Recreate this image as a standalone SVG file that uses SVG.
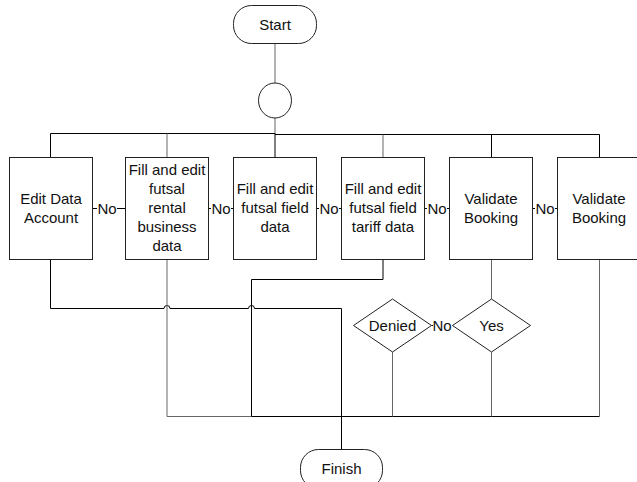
<svg xmlns="http://www.w3.org/2000/svg" width="637" height="482" viewBox="0 0 637 482">
<style>
  .box { fill: #fff; stroke: #222; stroke-width: 1; }
  .term { fill: #fff; stroke: #222; stroke-width: 1; }
  .t { font-family: "Liberation Sans", Arial, sans-serif; font-size: 15px; fill: #111; text-anchor: middle; }
  .c { fill: none; stroke: #000; stroke-width: 1; }
  .g { fill: none; stroke: #666; stroke-width: 1; }
  .bg { fill: #fff; }
</style>
<rect width="637" height="482" fill="#fff"/>
<g id="connectors">
  <path class="g" d="M275 44 V83"/>
  <path class="g" d="M275 118 V133"/>
  <path class="c" d="M50.5 157.5 V133.5 H275"/>
  <path class="g" d="M167 133.5 V157.5"/>
  <path class="c" d="M275 133 V157.5" stroke-width="2"/>
  <path class="c" d="M275 134.5 H599.5 V157.5"/>
  <path class="g" d="M383 134.5 V157.5"/>
  <path class="c" d="M491.5 134.5 V157.5"/>
  <path class="c" d="M92.5 208.5 H125.5 M208.5 208.5 H233.5 M316.5 208.5 H341.5 M424.5 208.5 H449.5 M532.5 208.5 H557.5"/>
  <path class="c" d="M50.5 259.5 V308.5 H164 A3 3 0 0 1 170 308.5 H248.5 A3 3 0 0 1 254.5 308.5 H341.5 V449.5"/>
  <path class="g" d="M167 259.5 V416.5 H251.5"/>
  <path class="c" d="M383 259.5 V279.5 H251.5 V416.5 H599.5"/>
  <path class="g" d="M599.5 259.5 V416.5"/>
  <path class="g" d="M491.5 259.5 V299"/>
  <path class="g" d="M392.5 352 V416.5"/>
  <path class="g" d="M491.5 352 V416.5"/>
  <path class="c" d="M431.5 325.5 H452.5"/>
</g>
<g id="labels">
  <rect class="bg" x="97" y="200" width="20" height="16"/>
  <text class="t" x="107" y="213.5">No</text>
  <rect class="bg" x="211" y="200" width="20" height="16"/>
  <text class="t" x="221" y="213.5">No</text>
  <rect class="bg" x="319" y="200" width="20" height="16"/>
  <text class="t" x="329" y="213.5">No</text>
  <rect class="bg" x="427" y="200" width="20" height="16"/>
  <text class="t" x="437" y="213.5">No</text>
  <rect class="bg" x="535" y="200" width="20" height="16"/>
  <text class="t" x="545" y="213.5">No</text>
  <rect class="bg" x="433" y="317" width="19" height="16"/>
  <text class="t" x="442" y="330.5">No</text>
</g>
<g id="start">
  <rect class="term" x="233.5" y="5.5" width="83" height="38" rx="18"/>
  <text class="t" x="275" y="30">Start</text>
</g>
<g id="junction">
  <ellipse class="term" cx="275" cy="100.5" rx="16.5" ry="17.5"/>
</g>
<g id="edit-data-account">
  <rect class="box" x="9.5" y="157.5" width="83" height="102"/>
  <text class="t" x="51" y="203.5">Edit Data</text>
  <text class="t" x="51" y="223">Account</text>
</g>
<g id="fill-business">
  <rect class="box" x="125.5" y="157.5" width="83" height="102"/>
  <text class="t" x="167" y="175">Fill and edit</text>
  <text class="t" x="167" y="194">futsal</text>
  <text class="t" x="167" y="213">rental</text>
  <text class="t" x="167" y="232">business</text>
  <text class="t" x="167" y="251">data</text>
</g>
<g id="fill-field">
  <rect class="box" x="233.5" y="157.5" width="83" height="102"/>
  <text class="t" x="275" y="194">Fill and edit</text>
  <text class="t" x="275" y="213">futsal field</text>
  <text class="t" x="275" y="232">data</text>
</g>
<g id="fill-tariff">
  <rect class="box" x="341.5" y="157.5" width="83" height="102"/>
  <text class="t" x="383" y="194">Fill and edit</text>
  <text class="t" x="383" y="213">futsal field</text>
  <text class="t" x="383" y="232">tariff data</text>
</g>
<g id="validate-1">
  <rect class="box" x="449.5" y="157.5" width="83" height="102"/>
  <text class="t" x="491" y="203.5">Validate</text>
  <text class="t" x="491" y="223">Booking</text>
</g>
<g id="validate-2">
  <rect class="box" x="557.5" y="157.5" width="84" height="102"/>
  <text class="t" x="599" y="203.5">Validate</text>
  <text class="t" x="599" y="223">Booking</text>
</g>
<g id="denied">
  <polygon class="box" points="392.5,299 431.5,325.5 392.5,352 353.5,325.5"/>
  <text class="t" x="392.5" y="330.5">Denied</text>
</g>
<g id="yes">
  <polygon class="box" points="491.5,299 530.5,325.5 491.5,352 452.5,325.5"/>
  <text class="t" x="491.5" y="330.5">Yes</text>
</g>
<g id="finish">
  <rect class="term" x="300.5" y="449.5" width="82" height="39" rx="18"/>
  <text class="t" x="341.5" y="473.5">Finish</text>
</g>
</svg>
